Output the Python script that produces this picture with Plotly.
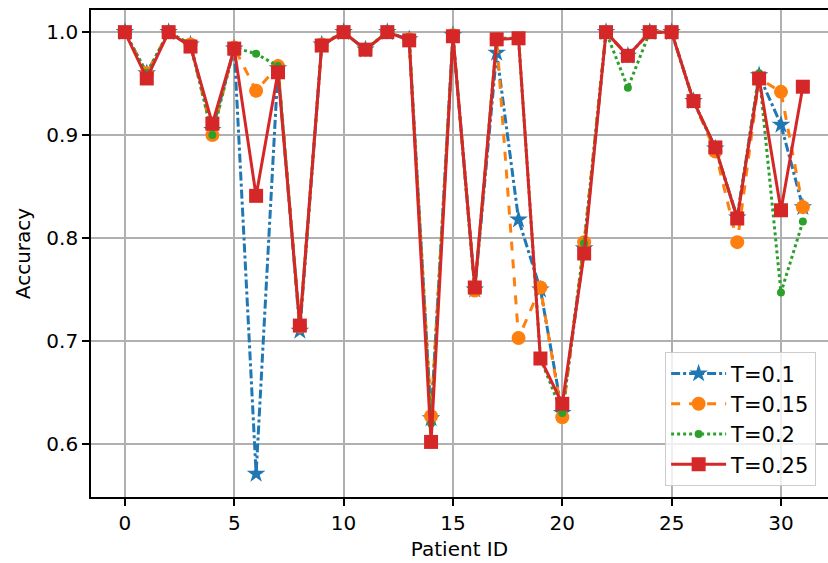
import plotly.graph_objects as go

patient_ids = list(range(32))
acc_t010 = [1.0, 0.960, 1.0, 0.988, 0.905, 0.984, 0.571, 0.965, 0.710, 0.988,
            1.0, 0.983, 1.0, 0.993, 0.625, 0.997, 0.750, 0.980, 0.818, 0.750,
            0.630, 0.790, 1.0, 0.977, 1.0, 1.0, 0.933, 0.887, 0.820, 0.958,
            0.910, 0.830]
acc_t015 = [1.0, 0.960, 1.0, 0.988, 0.900, 0.985, 0.943, 0.967, 0.714, 0.988,
            1.0, 0.983, 1.0, 0.993, 0.627, 0.997, 0.749, 0.993, 0.703, 0.752,
            0.626, 0.796, 1.0, 0.977, 1.0, 1.0, 0.933, 0.884, 0.796, 0.955,
            0.942, 0.830]
acc_t020 = [1.0, 0.960, 1.0, 0.988, 0.900, 0.985, 0.979, 0.967, 0.714, 0.988,
            1.0, 0.983, 1.0, 0.993, 0.620, 0.997, 0.750, 0.994, 0.994, 0.683,
            0.630, 0.795, 1.0, 0.946, 1.0, 1.0, 0.933, 0.887, 0.820, 0.960,
            0.747, 0.816]
acc_t025 = [1.0, 0.955, 1.0, 0.986, 0.911, 0.984, 0.841, 0.961, 0.715, 0.987,
            1.0, 0.983, 1.0, 0.992, 0.602, 0.996, 0.752, 0.993, 0.994, 0.683,
            0.639, 0.785, 1.0, 0.977, 1.0, 1.0, 0.933, 0.888, 0.819, 0.955,
            0.827, 0.947]
series_names = ["T=0.1", "T=0.15", "T=0.2", "T=0.25"]
x_ticks = [0, 5, 10, 15, 20, 25, 30]
y_ticks = [0.6, 0.7, 0.8, 0.9, 1.0]

styles = [
    dict(color="#1f77b4", dash="dashdot", symbol="star", size=14),
    dict(color="#ff7f0e", dash="dash", symbol="circle", size=14),
    dict(color="#2ca02c", dash="dot", symbol="circle", size=8),
    dict(color="#d62728", dash="solid", symbol="square", size=14),
]

fig = go.Figure()
for name, ys, st in zip(series_names, [acc_t010, acc_t015, acc_t020, acc_t025], styles):
    fig.add_trace(go.Scatter(
        x=patient_ids, y=ys, name=name, mode="lines+markers",
        line=dict(color=st["color"], dash=st["dash"], width=3),
        marker=dict(color=st["color"], symbol=st["symbol"], size=st["size"], line=dict(width=0)),
    ))

font = "DejaVu Sans, sans-serif"
fig.update_layout(
    width=828, height=563,
    margin=dict(l=91, r=0, t=10, b=66, autoexpand=False),
    paper_bgcolor="white", plot_bgcolor="white",
    font=dict(family=font, size=20, color="black"),
    showlegend=True,
    legend=dict(
        x=0.779, y=0.022, xanchor="left", yanchor="bottom",
        bgcolor="rgba(255,255,255,0.8)", bordercolor="#cccccc", borderwidth=1,
        font=dict(size=21, family=font), tracegroupgap=0, itemwidth=55,
    ),
    xaxis=dict(
        range=[-1.55, 32.15], tickvals=x_ticks, ticktext=[str(v) for v in x_ticks],
        showgrid=True, gridcolor="#b0b0b0", gridwidth=1.6,
        showline=True, linecolor="black", linewidth=1.7, mirror=True,
        ticks="outside", ticklen=7, tickwidth=1.7, tickcolor="black", zeroline=False,
        title=dict(text="Patient ID", font=dict(size=20), standoff=8),
        tickfont=dict(size=20), automargin=False,
    ),
    yaxis=dict(
        range=[0.5485, 1.0215], tickvals=y_ticks, ticktext=[f"{v:.1f}" for v in y_ticks],
        showgrid=True, gridcolor="#b0b0b0", gridwidth=1.6,
        showline=True, linecolor="black", linewidth=1.7, mirror=False,
        ticks="outside", ticklen=7, tickwidth=1.7, tickcolor="black", zeroline=False,
        title=dict(text="Accuracy", font=dict(size=20), standoff=10),
        tickfont=dict(size=20), automargin=False,
    ),
)
fig.write_html("out.html")
